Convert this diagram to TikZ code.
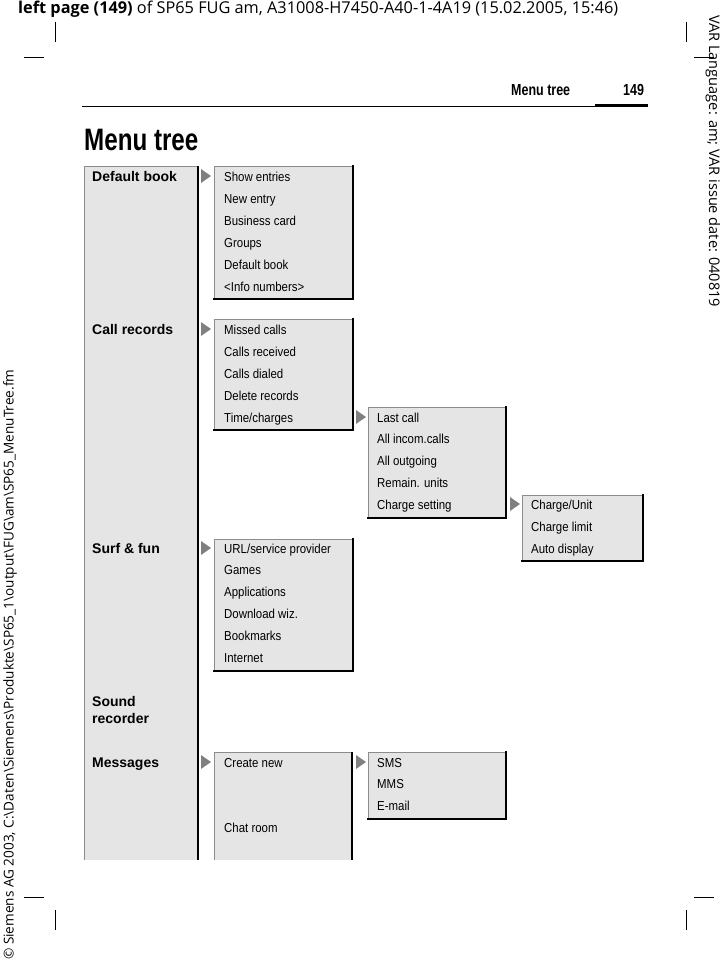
\documentclass[tikz,border=0pt]{standalone}
\usepackage{fontspec}
\setmainfont{Liberation Sans}
\newfontfamily\hdrfont{Open Sans}
\begin{document}
\begin{tikzpicture}[x=1pt,y=-1pt,
  item/.style={anchor=base west,inner sep=0pt,font=\fontsize{13}{13}\selectfont},
  head/.style={anchor=base west,inner sep=0pt,font=\fontsize{14}{17}\selectfont\bfseries,align=left},
  boxbg/.style={fill=black!10,draw=black!45,line width=0.8pt},
  shade/.style={line width=2pt,line cap=rect},
  tri/.style={fill=black!50},
  crop/.style={line width=0.8pt}]
\useasboundingbox (0,0) rectangle (725,963);
% header
\node[anchor=west,inner sep=0pt] (top) at (18,9) {\resizebox{600pt}{!}{\hdrfont\textbf{left page (149)} of SP65 FUG am, A31008-H7450-A40-1-4A19 (15.02.2005, 15:46)}};
\node[anchor=west,inner sep=0pt,rotate=-90] (rside) at (713,15) {\resizebox{292pt}{!}{\hdrfont VAR Language: am; VAR issue date: 040819}};
\node[anchor=west,inner sep=0pt,rotate=90] (lside) at (10,960) {\resizebox{590pt}{!}{\hdrfont \textcopyright{} Siemens AG 2003, C:\textbackslash Daten\textbackslash Siemens\textbackslash Produkte\textbackslash SP65\_1\textbackslash output\textbackslash FUG\textbackslash am\textbackslash SP65\_MenuTree.fm}};
% crop marks
\foreach \x/\hx in {55/24,686/694}{
  \draw[crop] (\x,22)--(\x,42); \draw[crop] (\hx,57)--(\hx+20,57);
  \draw[crop] (\x,910)--(\x,930); \draw[crop] (\hx,897)--(\hx+20,897);}
% running head
\node[anchor=base west,inner sep=0pt] (rh) at (511,96) {\scalebox{0.78}[1]{\fontsize{16}{16}\selectfont\bfseries Menu tree}};
\node[anchor=base west,inner sep=0pt] (pg) at (623,96) {\scalebox{0.78}[1]{\fontsize{16}{16}\selectfont\bfseries 149}};
\draw[line width=0.8pt] (82,106)--(648,106);
\draw[line width=3pt] (595,105.5)--(648,105.5);
\node[anchor=base west,inner sep=0pt] (title) at (84,150) {\scalebox{0.78}[1]{\fontsize{31}{31}\selectfont\bfseries Menu tree}};
% left column
\fill[black!10] (84,166) rectangle (198,860);
\draw[black!45,line width=0.8pt] (84,860)--(84,166)--(198,166);
\draw[shade,line cap=butt] (198,166)--(198,860);
% boxes
\newcommand{\mybox}[5]{% name, x1,y1,x2,y2
  \node[boxbg,minimum width=#4-#2,minimum height=#5-#3,anchor=north west,inner sep=0pt] (#1) at (#2,#3) {};
  \draw[shade] (#1.north east)--(#1.south east)--(#1.south west);}
\mybox{b1}{214}{166}{352}{298}
\mybox{b2}{214}{319}{352}{429}
\mybox{b3}{368}{407}{505}{517}
\mybox{b4}{522}{495}{642}{560}
\mybox{b5}{214}{539}{352}{670}
\mybox{b7}{368}{752}{505}{818}
\fill[black!10] (214,752) rectangle (352,860);
\draw[black!45,line width=0.8pt] (214,860)--(214,752)--(352,752);
\draw[shade,line cap=butt] (352,752)--(352,860);
\coordinate (b6) at (214,752);
% triangles
\foreach \x/\y in {201/176,201/329,201/548,201/762,356/417,356/762,510/504}{
  \fill[tri] (\x,\y-7)--(\x+10,\y)--(\x,\y+7)--cycle;}
% headings
\node[head] (h1) at (92,181) {Default book};
\node[head] (h2) at (92,334) {Call records};
\node[head] (h3) at (92,553) {Surf \& fun};
\node[head] (h4) at (92,706) {Sound};
\node[head] (h4b) at (92,723) {recorder};
\node[head] (h5) at (92,767) {Messages};
% items
\foreach \t [count=\i from 0] in {Show entries,New entry,Business card,Groups,Default book,<Info numbers>}
  \node[item] (a\i) at (224,181+22*\i) {\scalebox{0.88}[1]{\t}};
\foreach \t [count=\i from 0] in {Missed calls,Calls received,Calls dialed,Delete records,Time/charges}
  \node[item] (c\i) at (224,334+22*\i) {\scalebox{0.88}[1]{\t}};
\foreach \t [count=\i from 0] in {Last call,All incom.calls,All outgoing,Remain. units,Charge setting}
  \node[item] (d\i) at (377,422+21.8*\i) {\scalebox{0.88}[1]{\t}};
\foreach \t [count=\i from 0] in {Charge/Unit,Charge limit,Auto display}
  \node[item] (e\i) at (531,509+22*\i) {\scalebox{0.88}[1]{\t}};
\foreach \t [count=\i from 0] in {URL/service provider,Games,Applications,Download wiz.,Bookmarks,Internet}
  \node[item] (f\i) at (224,553+21.8*\i) {\scalebox{0.88}[1]{\t}};
\node[item] (g0) at (224,767) {\scalebox{0.88}[1]{Create new}};
\node[item] (g1) at (224,832) {\scalebox{0.88}[1]{Chat room}};
\foreach \t [count=\i from 0] in {SMS,MMS,E-mail}
  \node[item] (s\i) at (377,767+21.5*\i) {\scalebox{0.88}[1]{\t}};
\end{tikzpicture}
\end{document}
